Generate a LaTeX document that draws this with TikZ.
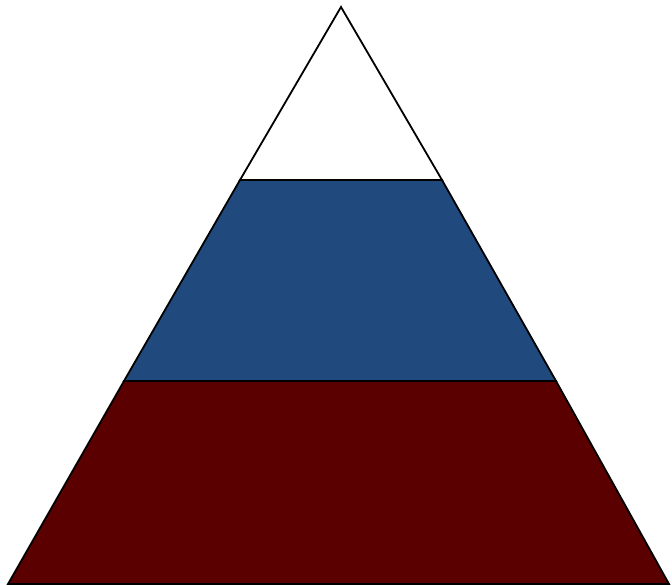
\documentclass[tikz,border=0pt]{standalone}
\usepackage{xcolor}
\usepackage{tikz}
\definecolor{ink}{HTML}{000000}
\definecolor{tierblue}{HTML}{204A7E}
\definecolor{tierred}{HTML}{5A0000}
\tikzset{
  tier/.style={draw=ink,line width=1.8pt,line join=miter},
  toptier/.style={tier,fill=white},
  midtier/.style={tier,fill=tierblue},
  basetier/.style={tier,fill=tierred}
}

\begin{document}
\begin{tikzpicture}[x=1pt,y=-1pt]
  \useasboundingbox (0,0) rectangle (672,585);
  \coordinate (apex) at (341,7);
  \coordinate (bl) at (8,584);
  \coordinate (br) at (669,584);
  % cut lines of the tiers
  \coordinate (ul) at (240,180);
  \coordinate (ur) at (442,180);
  \coordinate (ml) at (124,381);
  \coordinate (mr) at (556,381);

  \draw[basetier] (ml)--(mr)--(br)--(bl)--cycle;
  \draw[midtier] (ul)--(ur)--(mr)--(ml)--cycle;
  \draw[toptier] (apex)--(ur)--(ul)--cycle;
\end{tikzpicture}
\end{document}
